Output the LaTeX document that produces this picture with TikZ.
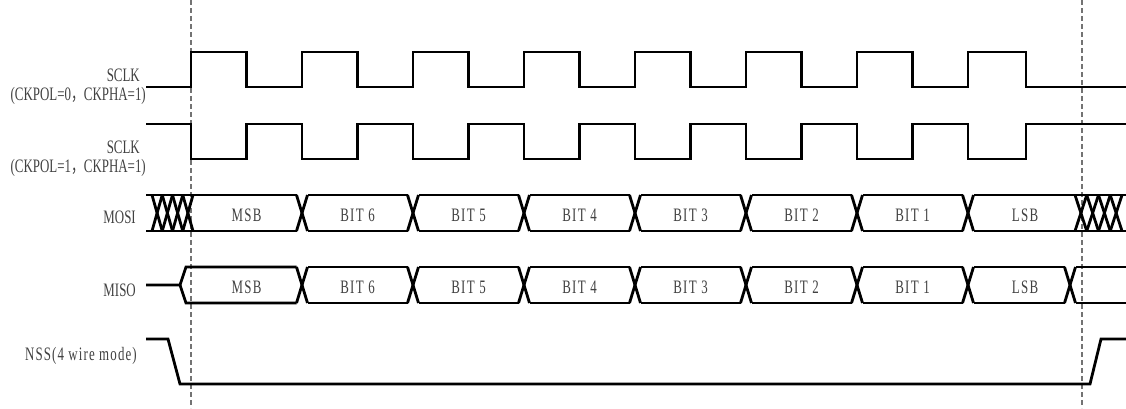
\documentclass[tikz,border=0pt]{standalone}
\usepackage{fontspec}
\setmainfont{Liberation Serif}[FakeStretch=0.68]
\newfontfamily\cjk{Noto Sans CJK SC}[FakeStretch=0.68]
\definecolor{txtgray}{RGB}{65,65,65}
\definecolor{dashgray}{RGB}{115,115,115}
\tikzset{
  sig/.style={line width=2.8pt, black, line join=miter},
  guide/.style={line width=1.2pt, dashgray, dash pattern=on 5pt off 3pt},
  lbl/.style={inner sep=0pt, text=txtgray, font=\fontsize{19}{22}\selectfont},
  lbr/.style={lbl, anchor=base east},
  cell/.style={lbl, anchor=base, font=\fontsize{19}{22}\selectfont\addfontfeature{LetterSpace=7}}
}
\begin{document}
\begin{tikzpicture}[x=1pt,y=-1pt]
\useasboundingbox (0,0) rectangle (1126,408);
% guide lines
\draw[guide] (191,0) -- (191,408);
\draw[guide] (1082,0) -- (1082,408);

% labels
\node[lbr] (s1a) at (140,81) {SCLK};
\node[lbr] (s1b) at (146,100) {(CKPOL=0{\cjk ，}CKPHA=1)};
\node[lbr] (s2a) at (140,153) {SCLK};
\node[lbr] (s2b) at (146,172) {(CKPOL=1{\cjk ，}CKPHA=1)};
\node[lbr] (mosi) at (136,223) {MOSI};
\node[lbr] (miso) at (136,296) {MISO};
\node[lbr] (nss) at (137,360) {\addfontfeature{LetterSpace=6}NSS(4 wire mode)};

% SCLK 1 (idle low)
\draw[sig] (146,87)
  \foreach \k in {0,...,6} { -- ({191+111*\k},87) -- ({191+111*\k},52) -- ({246.5+111*\k},52) -- ({246.5+111*\k},87) }
  -- (968,87) -- (968,52) -- (1026,52) -- (1026,87) -- (1126,87);

% SCLK 2 (idle high)
\draw[sig] (146,124)
  \foreach \k in {0,...,6} { -- ({191+111*\k},124) -- ({191+111*\k},159) -- ({246.5+111*\k},159) -- ({246.5+111*\k},124) }
  -- (968,124) -- (968,159) -- (1026,159) -- (1026,124) -- (1126,124);

% MOSI
\draw[sig] (146,195) -- (296.5,195);
\draw[sig] (146,231) -- (296.5,231);
\foreach \k in {0,...,5} {
  \draw[sig] ({307.5+111*\k},195) -- ({407.5+111*\k},195);
  \draw[sig] ({307.5+111*\k},231) -- ({407.5+111*\k},231);
}
\draw[sig] (973.5,195) -- (1126,195);
\draw[sig] (973.5,231) -- (1126,231);
\foreach \k in {0,...,6} {
  \draw[sig] ({296.5+111*\k},195) -- ({307.5+111*\k},231);
  \draw[sig] ({296.5+111*\k},231) -- ({307.5+111*\k},195);
}
\foreach \i in {0,...,3} {
  \draw[sig] ({152+10.25*\i},195) -- ({162.25+10.25*\i},231);
  \draw[sig] ({152+10.25*\i},231) -- ({162.25+10.25*\i},195);
  \draw[sig] ({1075+11.75*\i},195) -- ({1086.75+11.75*\i},231);
  \draw[sig] ({1075+11.75*\i},231) -- ({1086.75+11.75*\i},195);
}

% MISO
\draw[sig] (146,285) -- (180,285) -- (186,267) -- (296.5,267);
\draw[sig] (180,285) -- (186,303) -- (296.5,303);
\foreach \k in {0,...,5} {
  \draw[sig] ({307.5+111*\k},267) -- ({407.5+111*\k},267);
  \draw[sig] ({307.5+111*\k},303) -- ({407.5+111*\k},303);
}
\draw[sig] (973.5,267) -- (1064.5,267);
\draw[sig] (973.5,303) -- (1064.5,303);
\draw[sig] (1075.5,267) -- (1126,267);
\draw[sig] (1075.5,303) -- (1126,303);
\foreach \c in {302,413,524,635,746,857,968,1070} {
  \draw[sig] ({\c-5.5},267) -- ({\c+5.5},303);
  \draw[sig] ({\c-5.5},303) -- ({\c+5.5},267);
}

% NSS
\draw[sig] (146,339) -- (168,339) -- (180,384) -- (1090,384) -- (1101,339) -- (1126,339);

% data cell labels
\foreach \t/\x [count=\n] in {MSB/246.5, BIT 6/357.5, BIT 5/468.5, BIT 4/579.5, BIT 3/690.5, BIT 2/801.5, BIT 1/912.5, LSB/1025} {
  \node[cell] (mo\n) at (\x,221) {\t};
  \node[cell] (mi\n) at (\x,293) {\t};
}
\end{tikzpicture}
\end{document}
